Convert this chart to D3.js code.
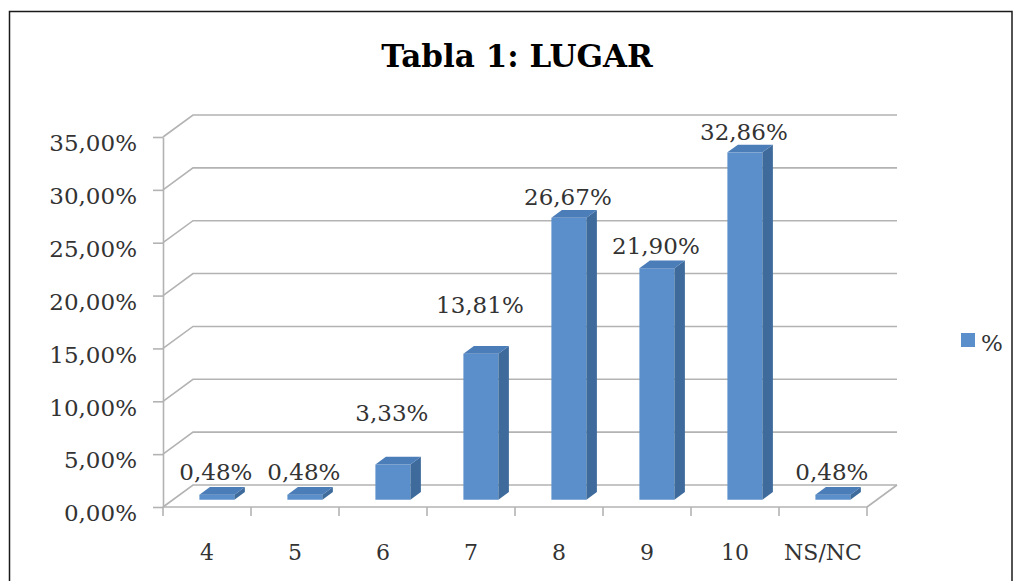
<!DOCTYPE html>
<html>
<head>
<meta charset="utf-8">
<script src="https://cdn.jsdelivr.net/npm/d3@7"></script>
<style>
  body { margin: 0; background: #fff; }
  text { font-family: "DejaVu Serif", serif; }
</style>
</head>
<body>
<svg width="1013" height="581"></svg>
<script>
(function (d3) {
  'use strict';

  // data
  const categories = ['4', '5', '6', '7', '8', '9', '10', 'NS/NC'];
  const percents = [0.48, 0.48, 3.33, 13.81, 26.67, 21.90, 32.86, 0.48];
  const yTickValues = [0, 5, 10, 15, 20, 25, 30, 35];
  const seriesName = '%';
  const title = 'Tabla 1: LUGAR';

  const svg = d3.select('svg');
  const width = +svg.attr('width');
  const height = +svg.attr('height');

  // layout
  const plot = {left: 163, right: 867, top: 137, bottom: 507};
  const depth = {dx: 30, dy: -22};
  const barFront = 0.33, barBack = 0.68;  // where the bar sits inside the depth
  const barW = 35;
  // Excel put some labels higher than others
  const labelGap = [7, 7, 36, 33, 5, 7, 5, 7];

  const gridColor = '#b3b3b3';
  const textColor = '#333';
  const colFront = '#5b8fcb', colSide = '#3e6b9c', colTop = '#4b7db8';

  const es = d3.formatLocale({decimal: ',', thousands: '.', grouping: [3], currency: ['', '€']});
  const fmt = v => es.format('.2f')(v) + '%';

  const xScale = d3.scaleBand()
    .domain(categories)
    .range([plot.left, plot.right]);

  const yScale = d3.scaleLinear()
    .domain([0, 35])
    .range([plot.bottom, plot.top]);

  // frame
  svg.append('rect')
    .attr('x', 9.5).attr('y', 11.5)
    .attr('width', width - 10.5).attr('height', height)
    .attr('fill', 'none')
    .attr('stroke', '#1a1a1a')
    .attr('stroke-width', 1.5);

  svg.append('text')
    .attr('x', 517).attr('y', 67)
    .attr('text-anchor', 'middle')
    .attr('font-weight', 'bold')
    .attr('font-size', 31)
    .attr('fill', '#000')
    .text(title);

  const grid = svg.append('g')
    .attr('stroke', gridColor)
    .attr('stroke-width', 1.6)
    .attr('fill', 'none');

  // side wall diagonals + back wall lines
  grid.selectAll('path.gl').data(yTickValues)
    .enter().append('path')
      .attr('class', 'gl')
      .attr('d', t => {
        const y = yScale(t);
        return `M${plot.left},${y}L${plot.left + depth.dx},${y + depth.dy}` +
               `L${plot.right + depth.dx},${y + depth.dy}`;
      });

  // floor right edge
  grid.append('path')
    .attr('d', `M${plot.right},${yScale(0)}L${plot.right + depth.dx},${yScale(0) + depth.dy}`);

  // front axes
  const yAxis = d3.axisLeft(yScale)
    .tickValues(yTickValues)
    .tickSize(10)
    .tickSizeOuter(0)
    .tickFormat(fmt);

  const yAxisG = svg.append('g')
    .attr('transform', `translate(${plot.left},0)`)
    .call(yAxis);
  yAxisG.select('.domain').attr('stroke', gridColor).attr('stroke-width', 1.6);
  yAxisG.selectAll('.tick line').attr('stroke', gridColor).attr('stroke-width', 1.6);
  yAxisG.selectAll('.tick text')
    .attr('x', -26)
    .attr('dy', '0.6em')
    .attr('font-family', 'DejaVu Serif')
    .attr('font-size', 23)
    .attr('fill', textColor);

  svg.append('path')
    .attr('d', `M${plot.left},${yScale(0)}H${plot.right}`)
    .attr('stroke', gridColor).attr('stroke-width', 1.6);

  const bounds = categories.map(c => xScale(c)).concat([plot.right]);
  svg.append('g').selectAll('line').data(bounds)
    .enter().append('line')
      .attr('x1', d => d).attr('x2', d => d)
      .attr('y1', yScale(0)).attr('y2', yScale(0) + 9)
      .attr('stroke', gridColor).attr('stroke-width', 1.6);

  svg.append('g').selectAll('text').data(categories)
    .enter().append('text')
      .attr('x', d => xScale(d) + xScale.bandwidth() / 2)
      .attr('y', 560)
      .attr('text-anchor', 'middle')
      .attr('font-size', 22)
      .attr('fill', textColor)
      .text(d => d);

  // bars
  const rows = categories.map((c, i) => ({cat: c, v: percents[i], gap: labelGap[i]}));
  const fx = barFront * depth.dx, fy = barFront * depth.dy;
  const ddx = (barBack - barFront) * depth.dx, ddy = (barBack - barFront) * depth.dy;
  const bx0 = d => xScale(d.cat) + (xScale.bandwidth() - barW) / 2 + fx;
  const by0 = () => yScale(0) + fy;
  const byTop = d => yScale(d.v) + fy;

  const bars = svg.append('g').selectAll('g').data(rows)
    .enter().append('g');

  bars.append('rect')
    .attr('x', bx0)
    .attr('y', byTop)
    .attr('width', barW)
    .attr('height', d => by0() - byTop(d))
    .attr('fill', colFront);

  bars.append('path')
    .attr('fill', colSide)
    .attr('d', d => {
      const x = bx0(d) + barW;
      return `M${x},${byTop(d)}L${x + ddx},${byTop(d) + ddy}` +
             `L${x + ddx},${by0() + ddy}L${x},${by0()}Z`;
    });

  bars.append('path')
    .attr('fill', colTop)
    .attr('d', d => {
      const x = bx0(d), y = byTop(d);
      return `M${x},${y}L${x + barW},${y}L${x + barW + ddx},${y + ddy}L${x + ddx},${y + ddy}Z`;
    });

  bars.append('text')
    .attr('x', d => bx0(d) + barW / 2 - 1)
    .attr('y', d => byTop(d) + ddy - d.gap)
    .attr('text-anchor', 'middle')
    .attr('font-size', 23)
    .attr('fill', textColor)
    .text(d => fmt(d.v));

  // legend
  svg.append('rect')
    .attr('x', 961).attr('y', 333)
    .attr('width', 14).attr('height', 14)
    .attr('fill', colFront);
  svg.append('text')
    .attr('x', 981).attr('y', 351)
    .attr('font-size', 23)
    .attr('fill', textColor)
    .text(seriesName);

}(d3));
</script>
</body>
</html>
